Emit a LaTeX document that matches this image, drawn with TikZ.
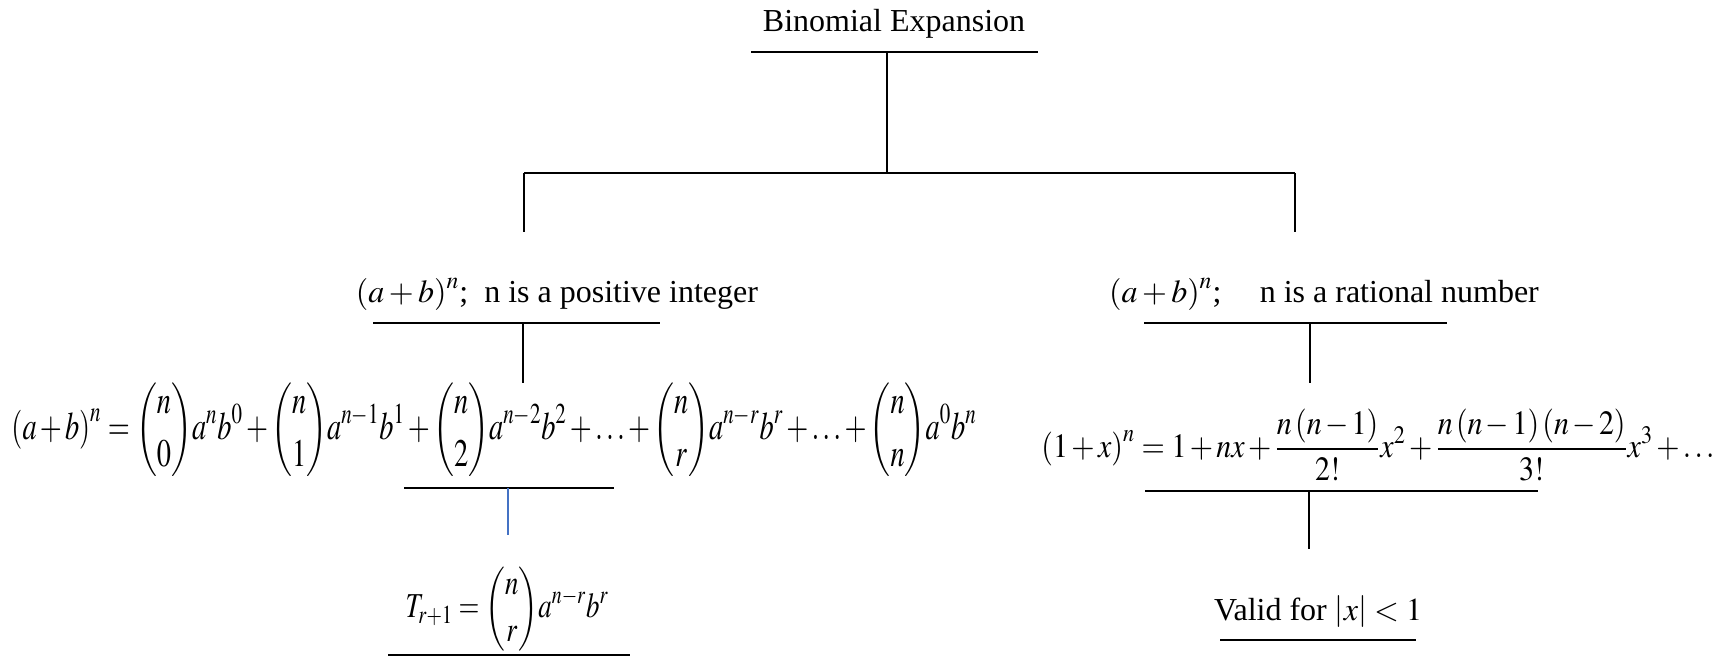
\documentclass[tikz,border=0pt]{standalone}
\usepackage{amsmath}
\usepackage{mathptmx}
\usepackage{fontspec}
\setmainfont{Liberation Serif}
\usetikzlibrary{positioning}
\definecolor{linkblue}{HTML}{4472C4}
% squeeze a display formula to a given width, height kept
\newcommand{\fitwide}[2]{\resizebox{#1}{\height}{$\medmuskip=2mu\thickmuskip=4mu\displaystyle #2$}}

\begin{document}
\begin{tikzpicture}[x=0.5pt, y=-0.5pt, font=\fontsize{16}{19}\selectfont]
\tikzset{
  bar/.style={line width=1pt},
  link/.style={linkblue, line width=0.8pt},
  caption/.style={inner sep=0pt, anchor=base},
  formula/.style={inner sep=0pt}
}
\useasboundingbox (0,0) rectangle (1729,657);

% root
\node[caption] (title) at (894,32) {Binomial\ Expansion};
\coordinate (titleL) at (751,52);
\coordinate (titleR) at (1038,52);
\coordinate (titleM) at (887,52);
\coordinate (fork) at (887,173);
\coordinate (forkL) at (524,173);
\coordinate (forkR) at (1295,173);
\coordinate (legL) at (524,232);
\coordinate (legR) at (1295,232);
\draw[bar] (titleL) -- (titleR);
\draw[bar] (titleM) -- (fork);
\draw[bar] (forkL) -- (forkR);
\draw[bar] (forkL) -- (legL);
\draw[bar] (forkR) -- (legR);

% positive integer branch
\node[caption] (posint) at (557,303) {$\left(a+b\right)^n$;\ \ n is a positive\ integer};
\coordinate (posintL) at (373,323);
\coordinate (posintR) at (660,323);
\coordinate (posintM) at (523,323);
\coordinate (posintD) at (523,383);
\draw[bar] (posintL) -- (posintR);
\draw[bar] (posintM) -- (posintD);

\node[formula, font=\fontsize{19.5}{23}\selectfont] (expand) at (494,430)
  {\fitwide{482.5pt}{\left(a+b\right)^n=\binom{n}{0}a^nb^0+\binom{n}{1}a^{n-1}b^1+\binom{n}{2}a^{n-2}b^2+\ldots+\binom{n}{r}a^{n-r}b^r+\ldots+\binom{n}{n}a^0b^n}};
\coordinate (expandL) at (404,488);
\coordinate (expandR) at (614,488);
\coordinate (expandM) at (508,488);
\coordinate (expandD) at (508,535);
\draw[bar] (expandL) -- (expandR);
\draw[link] (expandM) -- (expandD);

\node[formula, font=\fontsize{17.5}{21}\selectfont] (term) at (507,609)
  {\fitwide{101.5pt}{T_{r+1}=\binom{n}{r}a^{n-r}b^r}};
\coordinate (termL) at (388,655);
\coordinate (termR) at (630,655);
\draw[bar] (termL) -- (termR);

% rational branch
\node[caption] (ratnum) at (1324,303) {$\left(a+b\right)^n$;\hspace{1.2em}n is a rational\ number};
\coordinate (ratnumL) at (1144,323);
\coordinate (ratnumR) at (1447,323);
\coordinate (ratnumM) at (1310,323);
\coordinate (ratnumD) at (1310,383);
\draw[bar] (ratnumL) -- (ratnumR);
\draw[bar] (ratnumM) -- (ratnumD);

\node[formula, font=\fontsize{17}{20}\selectfont] (series) at (1378,445)
  {\fitwide{336.5pt}{\left(1+x\right)^n=1+nx+\frac{n\left(n-1\right)}{2!}x^2+\frac{n\left(n-1\right)\left(n-2\right)}{3!}x^3+\ldots}};
\coordinate (seriesL) at (1145,491);
\coordinate (seriesR) at (1538,491);
\coordinate (seriesM) at (1309,491);
\coordinate (seriesD) at (1309,549);
\draw[bar] (seriesL) -- (seriesR);
\draw[bar] (seriesM) -- (seriesD);

\node[caption] (valid) at (1318,620) {Valid\ for $\left|x\right|<1$};
\coordinate (validL) at (1220,640);
\coordinate (validR) at (1416,640);
\draw[bar] (validL) -- (validR);
\end{tikzpicture}
\end{document}
